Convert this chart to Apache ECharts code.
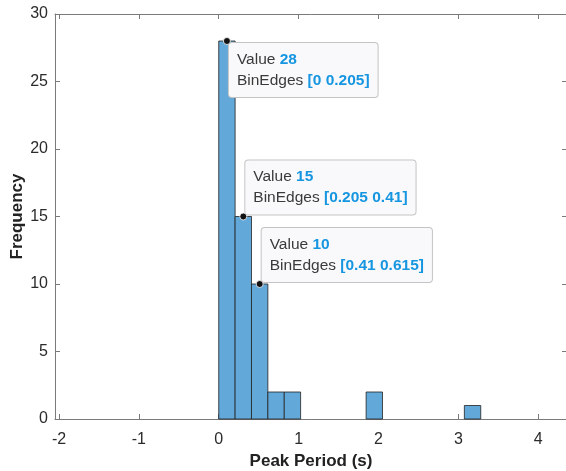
<!DOCTYPE html>
<html>
<head>
<meta charset="utf-8">
<script src="https://cdn.jsdelivr.net/npm/echarts@6/dist/echarts.min.js"></script>
<style>
  html, body { margin: 0; padding: 0; background: #fff; }
  #chart { width: 566px; height: 471px; }
</style>
</head>
<body>
<div id="chart"></div>
<script>
// Histogram bins of peak period (s) and their counts
const binLower = [0, 0.205, 0.41, 0.615, 0.82, 1.845, 3.075];
const binUpper = [0.205, 0.41, 0.615, 0.82, 1.025, 2.05, 3.28];
const counts = [28, 15, 10, 2, 2, 2, 1];

// Axis ticks
const xTicks = [-2, -1, 0, 1, 2, 3, 4];
const yTicks = [0, 5, 10, 15, 20, 25, 30];

// Bins that carry a data tip, and on which side of the point the tip sits
const tipBins = [0, 1, 2];
const tipSide = ['below', 'above', 'above'];

const FONT = '"Liberation Sans", Arial, Helvetica, sans-serif';
const AXIS_COLOR = '#7a7a7a';
const LABEL_COLOR = '#2b2b2b';

const chart = echarts.init(document.getElementById('chart'), null, { renderer: 'canvas' });

function axisCommon(ticks, showLabels, margin) {
  return {
    type: 'value',
    axisLine: { show: true, onZero: false, lineStyle: { color: AXIS_COLOR, width: 1 } },
    axisTick: { show: true, inside: true, length: 5, customValues: ticks, lineStyle: { color: AXIS_COLOR, width: 1 } },
    axisLabel: showLabels
      ? { show: true, customValues: ticks, fontSize: 16, color: LABEL_COLOR, fontFamily: FONT, margin: margin }
      : { show: false },
    splitLine: { show: false },
    minorTick: { show: false }
  };
}

const barData = binLower.map((lo, i) => [lo, binUpper[i], counts[i]]);
const tipData = tipBins.map((b, k) => [(binLower[b] + binUpper[b]) / 2, counts[b], b, k]);

chart.setOption({
  animation: false,
  backgroundColor: '#ffffff',
  grid: { left: 55, top: 14, right: -1, bottom: 52, containLabel: false, outerBoundsMode: 'none' },
  xAxis: [
    Object.assign(axisCommon(xTicks, true, 13), {
      position: 'bottom', min: -2.05, max: 4.36,
      name: 'Peak Period (s)', nameLocation: 'middle', nameGap: 34, nameMoveOverlap: false,
      nameTextStyle: { fontSize: 17, fontWeight: 'bold', color: '#222', fontFamily: FONT }
    }),
    Object.assign(axisCommon(xTicks, false, 0), { position: 'top', min: -2.05, max: 4.36 })
  ],
  yAxis: [
    Object.assign(axisCommon(yTicks, true, 7), {
      position: 'left', min: 0, max: 30,
      name: 'Frequency', nameLocation: 'middle', nameGap: 29, nameMoveOverlap: false,
      nameTextStyle: { fontSize: 17, fontWeight: 'bold', color: '#222', fontFamily: FONT }
    }),
    Object.assign(axisCommon(yTicks, false, 0), { position: 'right', min: 0, max: 30 })
  ],
  series: [
    {
      type: 'custom',
      name: 'histogram',
      xAxisIndex: 0,
      yAxisIndex: 0,
      data: barData,
      encode: { x: [0, 1], y: 2 },
      renderItem: function (params, api) {
        const topLeft = api.coord([api.value(0), api.value(2)]);
        const bottomRight = api.coord([api.value(1), 0]);
        return {
          type: 'rect',
          shape: {
            x: topLeft[0],
            y: topLeft[1],
            width: bottomRight[0] - topLeft[0],
            height: bottomRight[1] - topLeft[1]
          },
          style: { fill: '#62a8d9', stroke: '#222222', lineWidth: 0.8 }
        };
      }
    },
    {
      type: 'custom',
      name: 'datatips',
      xAxisIndex: 0,
      yAxisIndex: 0,
      clip: false,
      z: 10,
      data: tipData,
      encode: { x: 0, y: 1 },
      renderItem: function (params, api) {
        const p = api.coord([api.value(0), api.value(1)]);
        const b = api.value(2);
        const side = tipSide[api.value(3)];
        const text = '{n|Value }{v|' + counts[b] + '}\n{n|BinEdges }{v|[' + binLower[b] + ' ' + binUpper[b] + ']}';
        return {
          type: 'group',
          children: [
            {
              type: 'text',
              x: p[0] + 2,
              y: side === 'below' ? p[1] + 2 : p[1] - 2,
              style: {
                text: text,
                align: 'left',
                verticalAlign: side === 'below' ? 'top' : 'bottom',
                fontFamily: FONT,
                fontSize: 15.5,
                backgroundColor: '#f9f9fb',
                borderColor: '#c4c4c4',
                borderWidth: 1,
                borderRadius: 3,
                padding: [6, 8, 6, 8],
                rich: {
                  n: { fill: '#3a3a3a', fontSize: 15.5, fontFamily: FONT, lineHeight: 21 },
                  v: { fill: '#1696e0', fontSize: 15.5, fontWeight: 'bold', fontFamily: FONT, lineHeight: 21 }
                }
              }
            },
            {
              type: 'circle',
              shape: { cx: p[0], cy: p[1], r: 3.5 },
              style: { fill: '#111111', stroke: '#ffffff', lineWidth: 0.8 }
            }
          ]
        };
      }
    }
  ]
});
</script>
</body>
</html>
